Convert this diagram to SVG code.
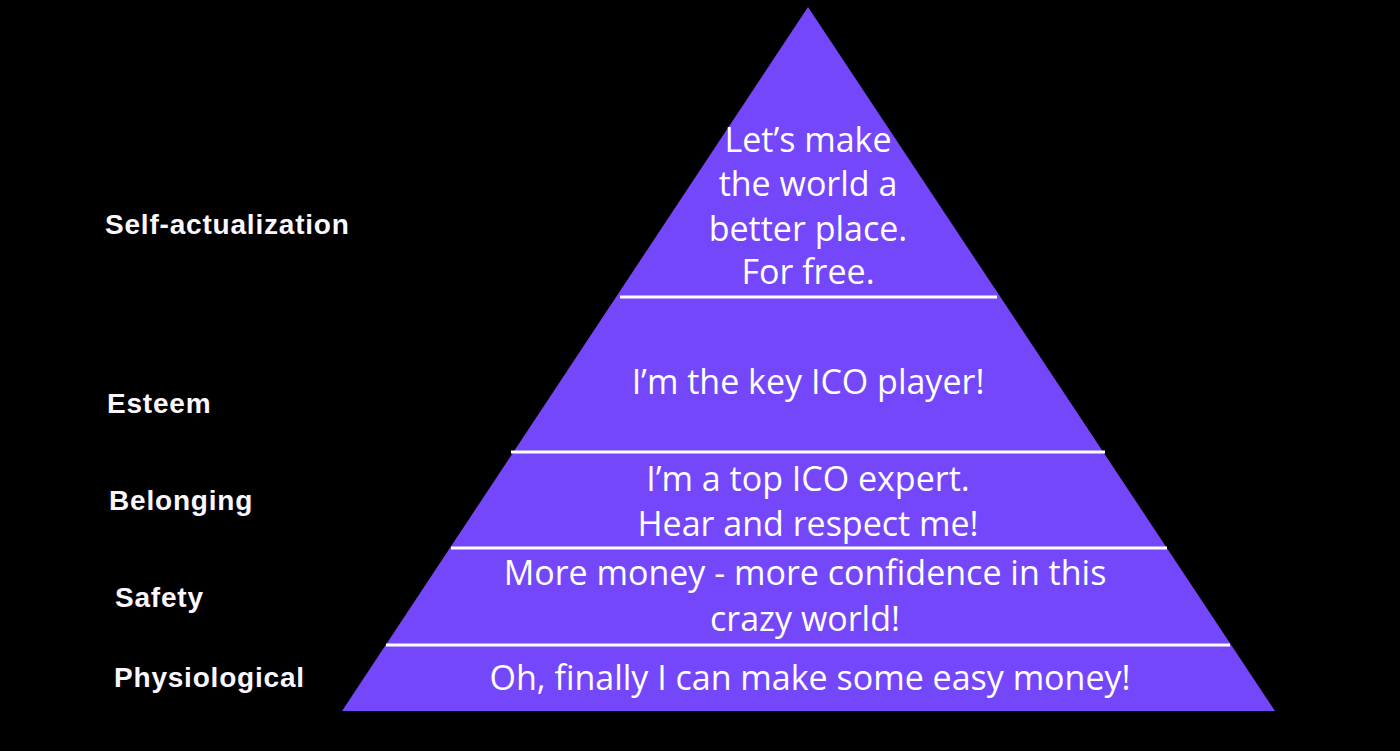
<svg xmlns="http://www.w3.org/2000/svg" width="1400" height="751" viewBox="0 0 1400 751">
<style>
.lbl{font-family:"Liberation Sans",Arial,sans-serif;font-weight:bold;font-size:28px;fill:#fbf7ff;letter-spacing:0.8px}
.tx{font-family:"Open Sans","Noto Sans",sans-serif;font-size:34px;fill:#ffffff;text-anchor:middle}
.sep{stroke:#ffffff;stroke-width:3}
</style>
<rect width="1400" height="751" fill="#000000"/>
<g id="pyramid">
<polygon points="808,7 342,711 1275,711" fill="#7547fb"/>
</g>
<g id="separators">
<line class="sep" x1="620" y1="297" x2="997" y2="297"/>
<line class="sep" x1="511" y1="452" x2="1105" y2="452"/>
<line class="sep" x1="451" y1="548" x2="1167" y2="548"/>
<line class="sep" x1="386" y1="645" x2="1230" y2="645"/>
</g>
<g id="level-self-actualization">
<text class="lbl" x="105" y="234">Self-actualization</text>
<text class="tx" x="808" y="152">Let’s make</text>
<text class="tx" x="808" y="196">the world a</text>
<text class="tx" x="808" y="241">better place.</text>
<text class="tx" x="808" y="284">For free.</text>
</g>
<g id="level-esteem">
<text class="lbl" x="107" y="413">Esteem</text>
<text class="tx" x="808" y="394">I’m the key ICO player!</text>
</g>
<g id="level-belonging">
<text class="lbl" x="109" y="510">Belonging</text>
<text class="tx" x="808" y="491">I’m a top ICO expert.</text>
<text class="tx" x="808" y="536">Hear and respect me!</text>
</g>
<g id="level-safety">
<text class="lbl" x="115" y="607">Safety</text>
<text class="tx" x="805" y="585">More money - more confidence in this</text>
<text class="tx" x="805" y="631">crazy world!</text>
</g>
<g id="level-physiological">
<text class="lbl" x="114" y="687">Physiological</text>
<text class="tx" x="810" y="690">Oh, finally I can make some easy money!</text>
</g>
</svg>
